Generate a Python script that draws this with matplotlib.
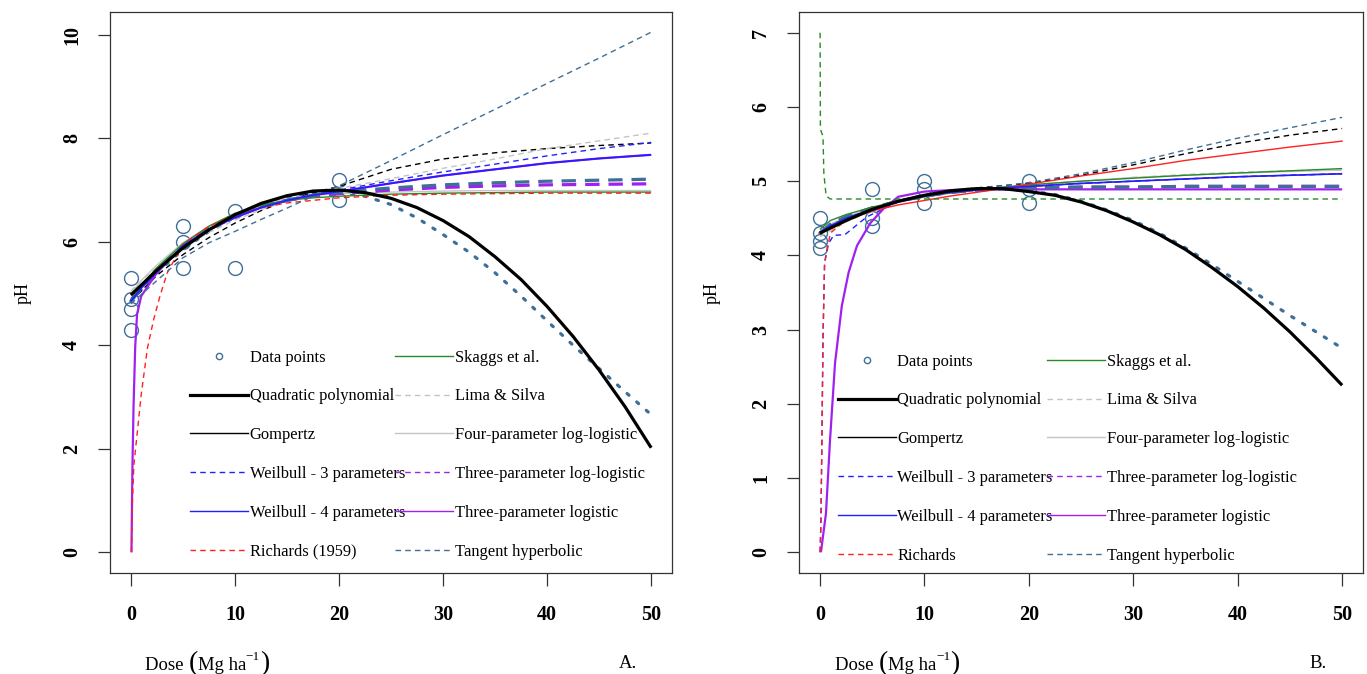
import matplotlib
matplotlib.use("Agg")
import matplotlib.pyplot as plt
from matplotlib.lines import Line2D

plt.rcParams['font.family'] = ['Liberation Serif', 'DejaVu Serif']

# ---------------- data: panel A ----------------
dose_A = [0, 0, 0, 0, 5, 5, 5, 10, 10, 20, 20]
ph_A = [5.3, 4.9, 4.7, 4.3, 6.3, 6.0, 5.5, 6.6, 5.5, 7.2, 6.8]

X = [0, 1, 2.5, 5, 7.5, 10, 12.5, 15, 17.5, 20, 25, 30, 35, 40, 45, 50]
XQ = [0, 2.5, 5, 7.5, 10, 12.5, 15, 17.5, 20, 22.5, 25, 27.5, 30, 32.5, 35,
      37.5, 40, 42.5, 45, 47.5, 50]

quad_A = [4.97, 5.45, 5.88, 6.23, 6.52, 6.74, 6.89, 6.98, 7.00, 6.95, 6.84,
          6.66, 6.41, 6.10, 5.71, 5.27, 4.75, 4.17, 3.52, 2.81, 2.02]
dotted_A = [4.85, 5.40, 5.85, 6.20, 6.48, 6.70, 6.86, 6.95, 6.97, 6.88, 6.72,
            6.46, 6.14, 5.80, 5.40, 4.95, 4.47, 4.00, 3.55, 3.10, 2.66]
gompertz_A = [4.85, 5.05, 5.35, 5.75, 6.08, 6.36, 6.60, 6.80, 6.95, 7.07,
              7.40, 7.60, 7.72, 7.80, 7.86, 7.91]
lima_A = [5.05, 5.25, 5.50, 5.88, 6.18, 6.42, 6.62, 6.78, 6.92, 7.03, 7.22,
          7.42, 7.60, 7.80, 7.95, 8.10]
fourll_A = [5.00, 5.25, 5.55, 5.98, 6.30, 6.55, 6.72, 6.83, 6.90, 6.93, 6.96,
            6.98, 6.99, 6.99, 6.99, 6.99]
weib3_A = [4.90, 5.12, 5.45, 5.92, 6.22, 6.46, 6.66, 6.80, 6.92, 7.00, 7.18,
           7.35, 7.50, 7.66, 7.80, 7.92]
weib4_A = [4.85, 5.10, 5.42, 5.92, 6.24, 6.47, 6.66, 6.80, 6.90, 6.97, 7.13,
           7.28, 7.40, 7.52, 7.61, 7.68]
x_logis3_A = [0.06, 0.16, 0.26, 0.42, 0.6, 1, 2.5, 5, 7.5, 10, 12.5, 15, 17.5,
              20, 25, 30, 35, 40, 45, 50]
logis3_A = [0.0, 1.7, 2.8, 3.96, 4.6, 4.95, 5.40, 5.92, 6.24, 6.47, 6.66, 6.80,
            6.90, 6.97, 7.13, 7.28, 7.40, 7.52, 7.61, 7.68]
ll3_A = [4.85, 5.10, 5.45, 5.92, 6.26, 6.50, 6.68, 6.80, 6.88, 6.93, 7.00,
         7.05, 7.08, 7.10, 7.11, 7.12]
thick_A = [4.85, 5.10, 5.45, 5.92, 6.26, 6.50, 6.68, 6.80, 6.90, 6.96, 7.04,
           7.10, 7.14, 7.17, 7.19, 7.21]
skaggs_A = [4.85, 5.15, 5.50, 5.96, 6.30, 6.55, 6.70, 6.80, 6.85, 6.88, 6.92,
            6.94, 6.95, 6.96, 6.96, 6.96]
x_rich_A = [0.07, 0.15, 0.3, 0.64, 1.0, 1.6, 2.2, 2.8, 3.5, 5, 7.5, 10, 12.5,
            15, 17.5, 20, 25, 30, 35, 40, 45, 50]
rich_A = [0.0, 1.0, 1.7, 2.35, 3.05, 3.95, 4.5, 4.95, 5.4, 5.95, 6.30, 6.52,
          6.66, 6.75, 6.80, 6.85, 6.90, 6.92, 6.93, 6.94, 6.94, 6.94]
tanh_A = [4.80, 4.98, 5.25, 5.69, 5.98, 6.20, 6.43, 6.65, 6.88, 7.08, 7.57,
          8.07, 8.56, 9.06, 9.55, 10.05]

# ---------------- data: panel B ----------------
dose_B = [0, 0, 0, 0, 5, 5, 5, 10, 10, 10, 20, 20, 20]
ph_B = [4.5, 4.3, 4.2, 4.1, 4.9, 4.5, 4.4, 5.0, 4.9, 4.7, 5.0, 4.9, 4.7]

quad_B = [4.30, 4.47, 4.62, 4.73, 4.81, 4.87, 4.90, 4.90, 4.86, 4.81, 4.72,
          4.60, 4.45, 4.28, 4.08, 3.84, 3.58, 3.29, 2.97, 2.62, 2.25]
dotted_B = [4.30, 4.47, 4.62, 4.73, 4.81, 4.87, 4.90, 4.90, 4.87, 4.82, 4.73,
            4.61, 4.47, 4.30, 4.10, 3.88, 3.65, 3.42, 3.19, 2.97, 2.75]
gompertz_B = [4.30, 4.40, 4.50, 4.63, 4.73, 4.81, 4.87, 4.91, 4.94, 4.97,
              5.08, 5.22, 5.37, 5.51, 5.62, 5.71]
tanh_B = [4.30, 4.40, 4.50, 4.63, 4.73, 4.80, 4.86, 4.90, 4.94, 4.98, 5.10,
          5.25, 5.42, 5.58, 5.72, 5.86]
redsolid_B = [4.30, 4.38, 4.47, 4.60, 4.68, 4.74, 4.80, 4.85, 4.90, 4.96,
              5.07, 5.17, 5.28, 5.37, 5.46, 5.54]
skaggs_B = [4.35, 4.47, 4.55, 4.65, 4.73, 4.79, 4.84, 4.88, 4.92, 4.95, 5.00,
            5.04, 5.08, 5.11, 5.14, 5.17]
x_weib3_B = [0.02, 0.1, 0.2, 0.3, 0.45, 0.8, 1.3, 2.4, 4.5, 7.5, 10, 12.5, 15,
             17.5, 20, 25, 30, 35, 40, 45, 50]
weib3_B = [0.0, 0.4, 1.6, 2.9, 3.9, 4.15, 4.27, 4.28, 4.52, 4.72, 4.80, 4.85,
           4.88, 4.91, 4.93, 4.97, 5.00, 5.03, 5.06, 5.08, 5.10]
x_rich_B = [0.02, 0.1, 0.2, 0.3, 0.45, 1.0, 2.5, 5, 7.5, 10, 12.5, 15, 17.5,
            20, 25, 30, 35, 40, 45, 50]
rich_B = [0.0, 0.4, 1.6, 2.9, 3.9, 4.30, 4.48, 4.62, 4.72, 4.80, 4.85, 4.88,
          4.91, 4.93, 4.97, 5.00, 5.03, 5.06, 5.08, 5.10]
weib4_B = [4.30, 4.40, 4.50, 4.62, 4.72, 4.80, 4.85, 4.88, 4.91, 4.93, 4.97,
           5.00, 5.03, 5.06, 5.08, 5.10]
lima_B = [4.25, 4.33, 4.45, 4.60, 4.71, 4.79, 4.85, 4.89, 4.92, 4.95, 5.00,
          5.05, 5.09, 5.12, 5.14, 5.15]
fourll_B = [4.30, 4.42, 4.52, 4.64, 4.73, 4.80, 4.85, 4.89, 4.92, 4.95, 5.00,
            5.05, 5.08, 5.11, 5.13, 5.15]
ll3_B = [4.30, 4.42, 4.52, 4.64, 4.73, 4.80, 4.85, 4.88, 4.90, 4.91, 4.92,
         4.92, 4.93, 4.93, 4.93, 4.93]
thick_B = [4.30, 4.42, 4.52, 4.64, 4.73, 4.80, 4.85, 4.88, 4.90, 4.91, 4.92,
           4.92, 4.93, 4.93, 4.93, 4.93]
x_logis3_B = [0.1, 0.58, 0.97, 1.45, 2.1, 2.75, 3.55, 4.85, 6.1, 7.5, 10,
              12.5, 15, 20, 30, 40, 50]
logis3_B = [0.0, 0.52, 1.51, 2.55, 3.32, 3.77, 4.13, 4.44, 4.63, 4.79, 4.86,
            4.88, 4.89, 4.89, 4.89, 4.89, 4.89]
x_greendash_B = [0.02, 0.05, 0.3, 0.38, 0.6, 1.0, 50]
greendash_B = [7.0, 5.7, 5.6, 5.1, 4.8, 4.76, 4.76]

legend_left = ["Data points", "Quadratic polynomial", "Gompertz",
               "Weilbull - 3 parameters", "Weilbull - 4 parameters"]
legend_right = ["Skaggs et al.", "Lima & Silva", "Four-parameter log-logistic",
                "Three-parameter log-logistic", "Three-parameter logistic",
                "Tangent hyperbolic"]

# ---------------- styles ----------------
STEEL = '#3F6F97'
BLUE = '#2020FF'
PURPLE = '#A020F0'
GREEN = '#2A8A2A'
GRAY = '#C4C4C4'
RED = '#FF2020'
thin_dash = (0, (4, 3))
thick_dash = (0, (4.5, 2.8))


def draw_panel(ax, d):
    kw = dict(solid_capstyle='butt', dash_capstyle='butt')
    ax.plot(d['dose'], d['ph'], 'o', mfc='none', mec=STEEL, ms=10, mew=1.0,
            zorder=2)
    ax.plot(XQ, d['dotted'], color=STEEL, lw=2.3, ls=(0, (0.8, 3.2)),
            dash_capstyle='round', zorder=3)
    ax.plot(XQ, d['quad'], color='black', lw=2.3, zorder=4, **kw)
    ax.plot(X, d['gompertz'], color='black', lw=1.0, ls=thin_dash, zorder=3, **kw)
    ax.plot(X, d['lima'], color=GRAY, lw=1.0, ls=thin_dash, zorder=3, **kw)
    ax.plot(X, d['fourll'], color=GRAY, lw=1.0, zorder=3, **kw)
    ax.plot(d['x_weib3'], d['weib3'], color=BLUE, lw=1.0, ls=thin_dash,
            zorder=3, **kw)
    ax.plot(d['x_logis3'], d['logis3'], color=PURPLE, lw=1.6, zorder=3, **kw)
    ax.plot(X, d['weib4'], color=BLUE, lw=1.2, zorder=3.1, **kw)
    ax.plot(X, d['ll3'], color=PURPLE, lw=2.3, ls=thick_dash, zorder=3, **kw)
    ax.plot(X, d['thick'], color=STEEL, lw=2.3, ls=thick_dash, zorder=3, **kw)
    ax.plot(X, d['skaggs'], color=GREEN, lw=1.0, zorder=3, **kw)
    ax.plot(d['x_rich'], d['rich'], color=RED, lw=1.0, ls=thin_dash, zorder=3, **kw)
    ax.plot(X, d['tanh'], color=STEEL, lw=1.0, ls=thin_dash, zorder=3, **kw)


def style_axis(ax, ylim, yticks):
    ax.set_xlim(-2, 52)
    ax.set_ylim(*ylim)
    ax.set_xticks([0, 10, 20, 30, 40, 50])
    ax.set_yticks(yticks)
    for s in ax.spines.values():
        s.set_color('#333333')
        s.set_linewidth(0.9)
    ax.tick_params(direction='out', length=9, width=0.9, color='#333333',
                   labelsize=14.5)
    ax.tick_params(axis='x', pad=14)
    ax.tick_params(axis='y', pad=11)
    for lab in ax.get_xticklabels():
        lab.set_fontweight('bold')
    for lab in ax.get_yticklabels():
        lab.set_fontweight('bold')
        lab.set_rotation(90)
        lab.set_va('center')
    ax.set_ylabel('pH', fontsize=13, labelpad=22)


def add_legend(ax, x_left, x_right, y_center, last_left):
    hl = [Line2D([], [], ls='none', marker='o', mfc='none', mec=STEEL, ms=4.5,
                 mew=1.0),
          Line2D([], [], color='black', lw=2.3),
          Line2D([], [], color='black', lw=1.0),
          Line2D([], [], color=BLUE, lw=1.0, ls=thin_dash),
          Line2D([], [], color=BLUE, lw=1.0),
          Line2D([], [], color=RED, lw=1.0, ls=thin_dash)]
    hr = [Line2D([], [], color=GREEN, lw=1.0),
          Line2D([], [], color=GRAY, lw=1.0, ls=thin_dash),
          Line2D([], [], color=GRAY, lw=1.0),
          Line2D([], [], color=PURPLE, lw=1.0, ls=thin_dash),
          Line2D([], [], color=PURPLE, lw=1.0),
          Line2D([], [], color=STEEL, lw=1.0, ls=thin_dash)]
    common = dict(frameon=False, fontsize=11.9, handlelength=3.5,
                  handletextpad=0.1, labelspacing=1.38, borderpad=0,
                  borderaxespad=0, loc='center left')
    lg1 = ax.legend(hl, legend_left + [last_left],
                    bbox_to_anchor=(x_left, y_center), **common)
    ax.add_artist(lg1)
    ax.legend(hr, legend_right, bbox_to_anchor=(x_right, y_center), **common)


def dose_label(fig, ax, x_px):
    y = 1 - 670 / 674
    t1 = fig.text(x_px / 1367, y, 'Dose ', fontsize=13.5, ha='left',
                  va='baseline')
    t2 = ax.annotate('(', xy=(1, -0.1), xycoords=t1, fontsize=20, ha='left',
                     va='bottom', annotation_clip=False)
    t3 = ax.annotate('Mg ha', xy=(1, 0), xycoords=(t2, t1), fontsize=13.5,
                     ha='left', va='bottom', annotation_clip=False)
    t4 = ax.annotate('\u22121', xy=(1, 0.62), xycoords=t3, fontsize=9.5,
                     ha='left', va='bottom', annotation_clip=False)
    ax.annotate(')', xy=(1, 0), xycoords=(t4, t2), fontsize=20, ha='left',
                va='bottom', annotation_clip=False)


fig = plt.figure(figsize=(13.67, 6.74), dpi=100)
axA = fig.add_axes([110 / 1367, 101 / 674, 562 / 1367, 561 / 674])
axB = fig.add_axes([799 / 1367, 101 / 674, 564 / 1367, 561 / 674])

panelA = dict(dose=dose_A, ph=ph_A, dotted=dotted_A, quad=quad_A,
              gompertz=gompertz_A, lima=lima_A, fourll=fourll_A,
              x_weib3=X, weib3=weib3_A, weib4=weib4_A,
              x_logis3=x_logis3_A, logis3=logis3_A, ll3=ll3_A, thick=thick_A,
              skaggs=skaggs_A, x_rich=x_rich_A, rich=rich_A, tanh=tanh_A)
draw_panel(axA, panelA)
style_axis(axA, (-0.4, 10.44), [0, 2, 4, 6, 8, 10])
add_legend(axA, 0.143, 0.508, 0.211, "Richards (1959)")

panelB = dict(dose=dose_B, ph=ph_B, dotted=dotted_B, quad=quad_B,
              gompertz=gompertz_B, lima=lima_B, fourll=fourll_B,
              x_weib3=x_weib3_B, weib3=weib3_B, weib4=weib4_B,
              x_logis3=x_logis3_B, logis3=logis3_B, ll3=ll3_B, thick=thick_B,
              skaggs=skaggs_B, x_rich=x_rich_B, rich=rich_B, tanh=tanh_B)
draw_panel(axB, panelB)
axB.plot(X, redsolid_B, color=RED, lw=1.0, zorder=3)
axB.plot(x_greendash_B, greendash_B, color=GREEN, lw=1.0, ls=thin_dash, zorder=3)
style_axis(axB, (-0.28, 7.28), [0, 1, 2, 3, 4, 5, 6, 7])
add_legend(axB, 0.069, 0.440, 0.204, "Richards")

dose_label(fig, axA, 145)
dose_label(fig, axB, 835)
fig.text(628 / 1367, 1 - 668 / 674, 'A.', fontsize=13.5, ha='center',
         va='baseline')
fig.text(1318 / 1367, 1 - 668 / 674, 'B.', fontsize=13.5, ha='center',
         va='baseline')

fig.savefig('out.png', dpi=100)
